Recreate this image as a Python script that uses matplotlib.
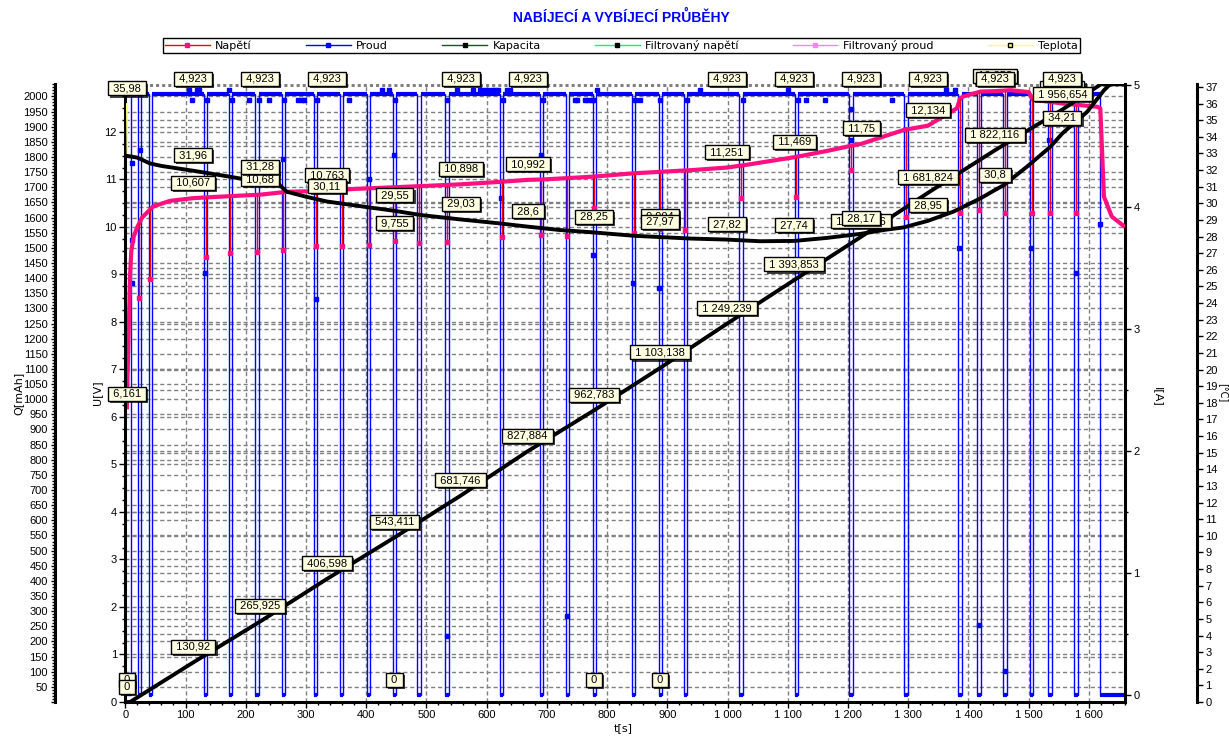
import numpy as np
import matplotlib
matplotlib.use("Agg")
import matplotlib.pyplot as plt
import matplotlib.patheffects as pe
from matplotlib.lines import Line2D
from matplotlib.ticker import MultipleLocator, FuncFormatter
from matplotlib.transforms import blended_transform_factory

plt.rcParams['font.family'] = ['Liberation Sans', 'DejaVu Sans']

# --- data ---
# current (Proud), charging with short measuring pauses
i_charge = 4.923
charge_on = 9
charge_off = 1619
t_end = 1660
pulse_start = [21, 39, 131, 172, 215, 260, 313, 356, 401, 445, 485, 531, 622, 688, 731,
               776, 841, 886, 927, 1019, 1112, 1202, 1293, 1383, 1415, 1458, 1502, 1532, 1576]
pulse_end = [26, 44, 136, 177, 222, 265, 319, 362, 407, 450, 491, 537, 628, 694, 737,
             781, 847, 891, 933, 1026, 1117, 1208, 1299, 1389, 1421, 1464, 1508, 1538, 1582]
# voltage drop during each pause
dip_u = [8.5, 8.9, 9.37, 9.45, 9.48, 9.52, 9.6, 9.59, 9.62, 9.7, 9.66, 9.68, 9.79, 9.83, 9.8,
         10.4, 9.87, 9.95, 9.93, 10.6, 10.63, 11.2, 10.2, 10.3, 10.35, 10.3, 10.3, 10.3, 10.3]

# current samples caught mid-transition
i_mid_t = [11, 24, 11, 11, 133, 262, 316, 404, 447, 534, 624, 690, 733, 776, 843, 886,
           1205, 1205, 1385, 1418, 1461, 1504, 1534, 1578, 1619]
i_mid_v = [4.36, 4.47, 3.73, 3.38, 3.46, 4.39, 3.25, 4.23, 4.43, 0.48, 4.07, 4.43, 0.65, 3.61,
           3.38, 3.34, 4.8, 4.55, 3.66, 0.57, 0.2, 3.66, 4.55, 3.46, 3.86]
# small current ripple samples above / below the charge level
ripple_hi_t = [106, 119, 122, 172, 427, 438, 551, 578, 589, 594, 601, 609, 614, 619, 634, 639,
               783, 955, 1101, 1363, 1378]
ripple_lo_t = [110, 136, 177, 206, 222, 239, 264, 287, 294, 297, 319, 372, 448, 534, 627, 694,
               747, 750, 764, 769, 775, 777, 847, 855, 888, 933, 1026, 1117, 1131, 1162, 1273]
ripple_hi = 4.96
ripple_lo = 4.877

# voltage (Napětí)
volt_t = [2.5, 4, 6, 8, 10, 14, 20, 28, 46, 74, 113, 160, 224, 268, 335, 379, 490, 557, 623,
          668, 694, 777, 844, 944, 999, 1027, 1111, 1165, 1209, 1222, 1292, 1333, 1348, 1381,
          1386, 1392, 1420, 1444, 1470, 1500, 1507, 1556, 1582, 1614, 1619, 1625, 1638, 1660]
volt_u = [6.161, 7.0, 8.0, 9.0, 9.5, 9.8, 10.0, 10.2, 10.43, 10.55, 10.607, 10.64, 10.68, 10.74,
          10.763, 10.8, 10.86, 10.898, 10.95, 10.992, 11.0, 11.06, 11.13, 11.2, 11.251, 11.3,
          11.469, 11.6, 11.72, 11.75, 12.04, 12.134, 12.25, 12.5, 12.7, 12.75, 12.85, 12.86,
          12.88, 12.84, 12.68, 12.6, 12.57, 12.53, 12.5, 10.64, 10.22, 10.0]

# capacity (Kapacita) mAh
cap_t = [2.5, 8, 113, 224, 335, 447, 557, 668, 778, 888, 999, 1111, 1222, 1333, 1444, 1556, 1620, 1660]
cap_q = [0, 0, 130.92, 265.925, 406.598, 543.411, 681.746, 827.884, 962.783, 1103.138,
         1249.239, 1393.853, 1536.716, 1681.824, 1822.116, 1956.654, 2040, 2040]

# temperature (Teplota) °C
temp_t = [2.5, 3.5, 20, 41, 60, 113, 174, 224, 255, 268, 300, 335, 406, 447, 490, 557, 620, 668,
          720, 778, 844, 888, 940, 999, 1054, 1111, 1165, 1222, 1260, 1292, 1333, 1375, 1420,
          1444, 1459, 1497, 1536, 1556, 1597, 1625, 1645, 1660]
temp_c = [35.98, 32.85, 32.75, 32.4, 32.25, 31.96, 31.6, 31.28, 31.15, 30.7, 30.4, 30.11, 29.75,
          29.55, 29.3, 29.03, 28.8, 28.6, 28.4, 28.25, 28.05, 27.97, 27.88, 27.82, 27.72, 27.74,
          27.92, 28.17, 28.4, 28.55, 28.95, 29.5, 30.3, 30.8, 31.1, 32.2, 33.4, 34.21, 35.5,
          36.8, 37.5, 37.5]

# value labels shown every ~111 s
label_t = [2.5, 113, 224, 335, 447, 557, 668, 778, 888, 999, 1111, 1222, 1333, 1444, 1556]
lab_cur = [0, 4.923, 4.923, 4.923, 0, 4.923, 4.923, 0, 0, 4.923, 4.923, 4.923, 4.923, 4.923, 4.923]
lab_volt = [6.161, 10.607, 10.68, 10.763, 9.755, 10.898, 10.992, None, 9.904, 11.251, 11.469,
            11.75, 12.134, 12.853, 12.594]
lab_temp = [35.98, 31.96, 31.28, 30.11, 29.55, 29.03, 28.6, 28.25, 27.97, 27.82, 27.74, 28.17,
            28.95, 30.8, 34.21]
lab_cap = [0, 130.92, 265.925, 406.598, 543.411, 681.746, 827.884, 962.783, 1103.138, 1249.239,
           1393.853, 1536.716, 1681.824, 1822.116, 1956.654]

PINK = '#FF1080'
BLUE = '#0000FF'
GRID = '#808080'
W, H = 1229, 736

fig = plt.figure(figsize=(W / 100, H / 100), dpi=100)
x0, x1, y_top, y_bot = 125.3, 1125, 84, 702
ax_i = fig.add_axes([x0 / W, (H - y_bot) / H, (x1 - x0) / W, (y_bot - y_top) / H])
ax_u = ax_i.twinx()
ax_q = ax_i.twinx()
ax_t = ax_i.twinx()
axes = [ax_i, ax_u, ax_q, ax_t]

ax_i.set_xlim(0, t_end)
ax_i.set_ylim(-0.057, 5.008)
ax_u.set_ylim(0, 13.01)
ax_q.set_ylim(0, 2041)
ax_t.set_ylim(0, 37.18)

# --- grid (all on bottom axes so it stays under the curves) ---
def hgrid(axis, values, lw=1.0, dashes=(3, 2)):
    tr = blended_transform_factory(ax_i.transAxes, axis.transData)
    for v in values:
        ax_i.plot([0, 1], [v, v], transform=tr, color=GRID, lw=lw, dashes=dashes, zorder=0.5)

for xv in range(100, 1700, 100):
    ax_i.axvline(xv, color=GRID, lw=1, dashes=(3, 2), zorder=0.5)
hgrid(ax_u, range(1, 13))
hgrid(ax_q, range(50, 2050, 50))
hgrid(ax_t, range(5, 40, 5))
hgrid(ax_i, [0.5 * k for k in range(1, 10)])
hgrid(ax_i, [5], lw=2.2, dashes=(1, 1))

# --- current ---
cur_t = [label_t[0], charge_on, charge_on]
cur_i = [0, 0, i_charge]
for s, e in zip(pulse_start, pulse_end):
    cur_t += [s, s, e, e]
    cur_i += [i_charge, 0, 0, i_charge]
cur_t += [charge_off, charge_off, t_end]
cur_i += [i_charge, 0, 0]
ax_i.plot(cur_t, cur_i, color=BLUE, lw=1.0, zorder=2)
seg_a = [charge_on] + pulse_end
seg_b = pulse_start + [charge_off]
ax_i.hlines([i_charge] * len(seg_a), seg_a, seg_b, color=BLUE, lw=3, zorder=2)
low_a = pulse_start + [charge_off]
low_b = pulse_end + [t_end]
ax_i.hlines([0] * len(low_a), low_a, low_b, color=BLUE, lw=3, zorder=2)
ax_i.plot(i_mid_t, i_mid_v, 's', color=BLUE, ms=3, zorder=2)
ax_i.plot(ripple_hi_t, [ripple_hi] * len(ripple_hi_t), 's', color=BLUE, ms=3, zorder=2)
ax_i.plot(ripple_lo_t, [ripple_lo] * len(ripple_lo_t), 's', color=BLUE, ms=3, zorder=2)

# --- voltage ---
dip_t = [(s + e) / 2 for s, e in zip(pulse_start, pulse_end)]
ax_u.plot(volt_t, volt_u, color=PINK, lw=3.0, solid_capstyle='butt', zorder=2)
ax_u.vlines(dip_t, dip_u, np.interp(dip_t, volt_t, volt_u), color='red', lw=1.0, zorder=2)
ax_u.plot(dip_t, dip_u, 's', color=PINK, ms=3.5, zorder=2)

# --- capacity ---
ax_q.plot(cap_t, cap_q, color='black', lw=2.8, zorder=2)

# --- temperature ---
ax_t.plot(temp_t, temp_c, color='#FFFF80', lw=1.2, zorder=2)
ax_t.plot(temp_t[1:], temp_c[1:], color='black', lw=2.8, zorder=2)

# --- spines and ticks ---
for a in axes:
    for s in a.spines.values():
        s.set_visible(False)
ax_i.spines['bottom'].set_visible(True)
ax_i.spines['right'].set_visible(True)
ax_u.spines['left'].set_visible(True)
ax_q.spines['left'].set_visible(True)
ax_q.spines['left'].set_position(('axes', (55 - x0) / (x1 - x0)))
ax_t.spines['right'].set_visible(True)
ax_t.spines['right'].set_position(('axes', (1197 - x0) / (x1 - x0)))
for a, side in [(ax_i, 'bottom'), (ax_i, 'right'), (ax_u, 'left'), (ax_q, 'left'), (ax_t, 'right')]:
    a.spines[side].set_linewidth(2.2)
    a.spines[side].set_color('black')

ax_i.yaxis.tick_right()
ax_u.yaxis.tick_left()
ax_q.yaxis.tick_left()
ax_t.yaxis.tick_right()

ax_i.xaxis.set_major_locator(MultipleLocator(100))
ax_i.xaxis.set_minor_locator(MultipleLocator(20))
ax_i.xaxis.set_major_formatter(FuncFormatter(lambda v, p: f"{int(v):,}".replace(",", " ")))
ax_i.yaxis.set_major_locator(MultipleLocator(1))
ax_i.yaxis.set_minor_locator(MultipleLocator(0.5))
ax_u.yaxis.set_major_locator(MultipleLocator(1))
ax_u.yaxis.set_minor_locator(MultipleLocator(0.25))
ax_u.set_yticks(range(0, 13))
ax_q.yaxis.set_major_locator(MultipleLocator(50))
ax_q.yaxis.set_minor_locator(MultipleLocator(10))
ax_q.yaxis.set_major_formatter(FuncFormatter(lambda v, p: '' if v == 0 else f"{int(v)}"))
ax_t.yaxis.set_major_locator(MultipleLocator(1))

for a in axes:
    a.tick_params(which='major', length=4, width=1, labelsize=8, pad=2, direction='out')
    a.tick_params(which='minor', length=2.5, width=1, direction='out')
ax_q.tick_params(which='major', length=3)

# --- axis titles ---
fig.text(18 / W, 1 - 393 / H, 'Q[mAh]', rotation=90, ha='center', va='center', fontsize=8, family='DejaVu Sans')
fig.text(97 / W, 1 - 393 / H, 'U[V]', rotation=90, ha='center', va='center', fontsize=8, family='DejaVu Sans')
fig.text(1158 / W, 1 - 397 / H, 'I[A]', rotation=270, ha='center', va='center', fontsize=8, family='DejaVu Sans')
fig.text(1223 / W, 1 - 393 / H, '[°C]', rotation=270, ha='center', va='center', fontsize=7, family='DejaVu Sans')
fig.text(623 / W, 1 - 728 / H, 't[s]', ha='center', va='center', fontsize=8, family='DejaVu Sans')

fig.text(621 / W, 1 - 17 / H, 'NABÍJECÍ A VYBÍJECÍ PRŮBĚHY', ha='center', va='center',
         fontsize=10, weight='bold', color=BLUE)

# --- value labels ---
def fmt(v):
    s = f"{v:,.3f}".rstrip('0').rstrip('.')
    return s.replace(',', ' ').replace('.', ',')

def put_label(axis, t, v):
    ann = ax_t.annotate(' ' + fmt(v) + ' ', xy=(t, v), xycoords=axis.transData,
                        xytext=(0, 15.5), textcoords='offset pixels', ha='center', va='center',
                        fontsize=8, zorder=20, annotation_clip=False,
                        bbox=dict(boxstyle='square,pad=0.18', fc='#FFFFE1', ec='black', lw=1))
    ann.get_bbox_patch().set_path_effects(
        [pe.SimplePatchShadow(offset=(1.5, -1.5), shadow_rgbFace='black', alpha=0.75), pe.Normal()])

for t, v in zip(label_t, lab_volt):
    if v is not None:
        put_label(ax_u, t, v)
for t, v in zip(label_t, lab_cur):
    put_label(ax_i, t, v)
for t, v in zip(label_t, lab_cap):
    put_label(ax_q, t, v)
for t, v in zip(label_t, lab_temp):
    put_label(ax_t, t, v)

# --- legend ---
handles = [
    Line2D([], [], color='red', lw=1, marker='s', ms=3, mfc=PINK, mec=PINK),
    Line2D([], [], color=BLUE, lw=1, marker='s', ms=3, mfc=BLUE, mec=BLUE),
    Line2D([], [], color='#006400', lw=1, marker='s', ms=3, mfc='black', mec='black'),
    Line2D([], [], color='#00FF80', lw=1, marker='s', ms=3, mfc='black', mec='black'),
    Line2D([], [], color='#FF80FF', lw=1, marker='s', ms=3, mfc='#FF80FF', mec='#FF80FF'),
    Line2D([], [], color='#FFFF80', lw=1, marker='s', ms=3, mfc='#FFFF80', mec='black'),
]
names = ['Napětí', 'Proud', 'Kapacita', 'Filtrovaný napětí', 'Filtrovaný proud', 'Teplota']
leg = fig.legend(handles, names, loc='lower left', ncol=6, mode='expand',
                 bbox_to_anchor=(163 / W, 1 - 53 / H, 917 / W, 17 / H),
                 prop={'family': 'DejaVu Sans', 'size': 8}, handlelength=4, handletextpad=0.5,
                 borderpad=0.2, borderaxespad=0, frameon=True, fancybox=False,
                 edgecolor='black', framealpha=1, columnspacing=1)
leg.get_frame().set_linewidth(1)

fig.savefig('out.png', dpi=100)
